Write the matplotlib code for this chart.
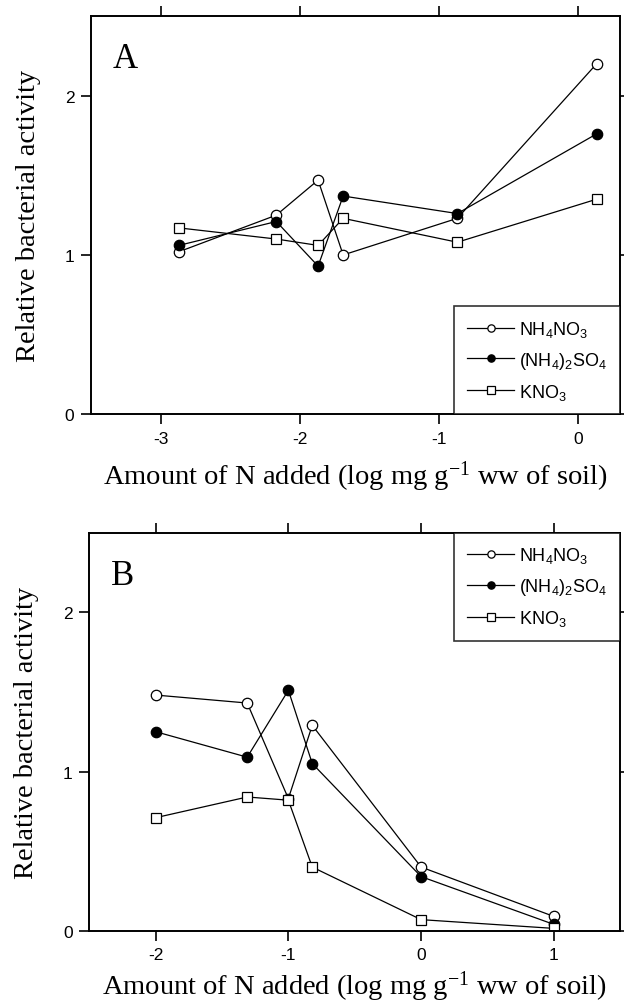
import matplotlib
matplotlib.use("Agg")
import matplotlib.pyplot as plt

plt.rcParams['font.family'] = ['Liberation Sans', 'DejaVu Sans']
plt.rcParams['mathtext.default'] = 'regular'
plt.rcParams['axes.unicode_minus'] = False

# panel A data
xA = [-2.87, -2.17, -1.87, -1.69, -0.87, 0.13]
nh4no3_A = [1.02, 1.25, 1.47, 1.00, 1.23, 2.20]
nh4so4_A = [1.06, 1.21, 0.93, 1.37, 1.26, 1.76]
kno3_A = [1.17, 1.10, 1.06, 1.23, 1.08, 1.35]

# panel B data
xB = [-2.0, -1.31, -1.0, -0.82, 0.0, 1.0]
nh4no3_B = [1.48, 1.43, 0.83, 1.29, 0.40, 0.09]
nh4so4_B = [1.25, 1.09, 1.51, 1.05, 0.34, 0.04]
kno3_B = [0.71, 0.84, 0.82, 0.40, 0.07, 0.015]

labels = [r'NH$_4$NO$_3$', r'(NH$_4$)$_2$SO$_4$', r'KNO$_3$']
xlabel = r'Amount of N added (log mg g$^{-1}$ ww of soil)'
serif = ['Liberation Serif', 'DejaVu Serif']


def draw_panel(ax, x, series, letter, xticks, xlim, legend_loc, xpad):
    styles = [dict(marker='o', mfc='white'),
              dict(marker='o', mfc='black'),
              dict(marker='s', mfc='white')]
    for y, st, lab in zip(series, styles, labels):
        ax.plot(x, y, color='black', lw=0.9, ms=7.5, mec='black', mew=0.9,
                label=lab, **st)
    ax.set_xlim(*xlim)
    ax.set_ylim(0, 2.5)
    ax.set_xticks(xticks)
    ax.set_yticks([0, 1, 2])
    ax.tick_params(direction='out', length=7, width=1.2, labelsize=12.5,
                   top=True, right=True, pad=5)
    for s in ax.spines.values():
        s.set_linewidth(1.4)
    ax.set_xlabel(xlabel, family=serif, fontsize=20.5, labelpad=xpad)
    ax.set_ylabel('Relative bacterial activity', family=serif, fontsize=20.5,
                  labelpad=17)
    ax.text(0.041, 0.872, letter, transform=ax.transAxes, family=serif,
            fontsize=25)
    if legend_loc == 'lower right':
        anchor = (1, 0)
    else:
        anchor = (1, 1)
    leg = ax.legend(loc=legend_loc, bbox_to_anchor=anchor, borderaxespad=0,
                    fancybox=False, edgecolor='black', fontsize=13,
                    markerscale=0.7, handlelength=2.6, labelspacing=0.6,
                    borderpad=0.7, handletextpad=0.3)
    leg.get_frame().set_linewidth(1.2)


fig = plt.figure(figsize=(6.24, 10.03), dpi=100)
axA = fig.add_axes([0.146, 0.586, 0.848, 0.397])
axB = fig.add_axes([0.143, 0.071, 0.851, 0.397])

draw_panel(axA, xA, [nh4no3_A, nh4so4_A, kno3_A], 'A', [-3, -2, -1, 0],
           (-3.5, 0.3), 'lower right', 9)
draw_panel(axB, xB, [nh4no3_B, nh4so4_B, kno3_B], 'B', [-2, -1, 0, 1],
           (-2.5, 1.5), 'upper right', 4)

fig.savefig('out.png', dpi=100)
